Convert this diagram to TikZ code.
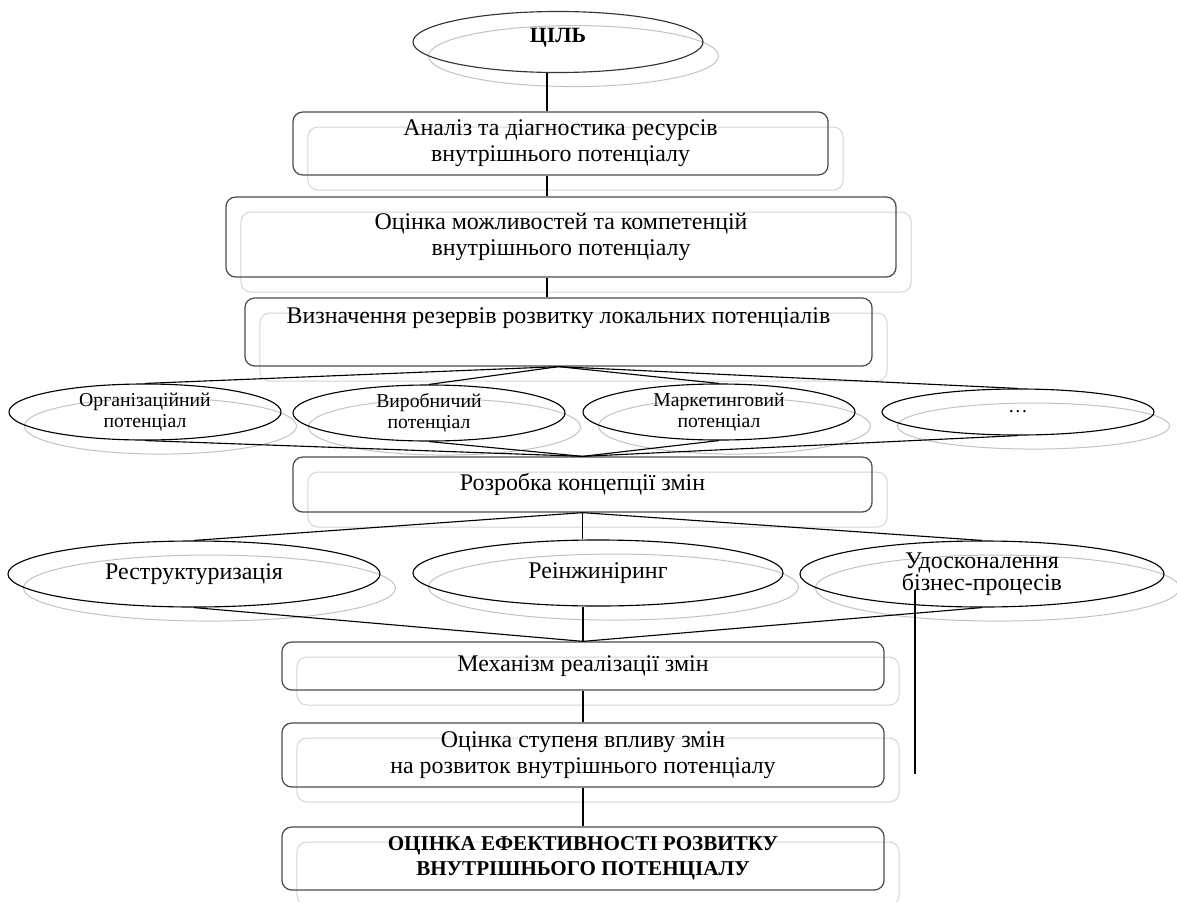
\documentclass[tikz,border=0pt]{standalone}
\usepackage{fontspec}
\setmainfont{Liberation Serif}
\usetikzlibrary{shapes,shadows,positioning,calc}

\begin{document}
\begin{tikzpicture}[x=0.025cm, y=-0.025cm,
    box/.style={draw=black!70, line width=0.9pt, rounded corners=7pt, align=center, inner sep=0pt,
      copy shadow={shadow xshift=10.7pt, shadow yshift=-10.7pt, draw=black!17, line width=0.7pt, fill=none},
      font=\fontsize{17}{18.5}\selectfont},
    oval/.style={ellipse, draw, line width=0.8pt, inner sep=0pt, align=center,
      copy shadow={shadow xshift=11pt, shadow yshift=-10pt, draw=black!24, line width=0.7pt, fill=none},
      font=\fontsize{14}{14.5}\selectfont},
    bigoval/.style={oval, font=\fontsize{17}{16}\selectfont},
    goal/.style={oval, draw=black!80, font=\fontsize{15.5}{16}\bfseries},
    link/.style={line width=0.8pt}]
    \useasboundingbox (0,0) rectangle (1177,901);
    % top of the chain
    \node[goal, minimum width=7.25cm, minimum height=1.525cm] (cil) at (558,42) {\raisebox{9pt}{ЦІЛЬ}};
    \coordinate (spine) at (547,0);
    \node[box, minimum width=13.375cm, minimum height=1.575cm] (analiz) at (560.5,143.5) {Аналіз та діагностика ресурсів\\внутрішнього потенціалу};
    \node[box, minimum width=16.75cm, minimum height=2cm] (ocinka) at (561,237) {Оцінка можливостей та компетенцій\\внутрішнього потенціалу};
    \node[box, minimum width=15.675cm, minimum height=1.7cm] (rezerv) at (558.5,332) {Визначення резервів розвитку локальних потенціалів\\ \strut};
    % local potentials
    \node[oval, minimum width=6.8cm, minimum height=1.4cm] (org) at (145,412) {Організаційний\\потенціал};
    \node[oval, minimum width=6.8cm, minimum height=1.4cm] (vyr) at (429,413) {Виробничий\\потенціал};
    \node[oval, minimum width=6.8cm, minimum height=1.4cm] (mark) at (719,412) {Маркетинговий\\потенціал};
    \node[oval, minimum width=6.8cm, minimum height=1.15cm] (dots) at (1018,412) {…};
    \node[box, minimum width=14.475cm, minimum height=1.375cm] (kontsep) at (582.5,484.5) {Розробка концепції змін};
    % ways of change
    \node[bigoval, minimum width=9.3cm, minimum height=1.65cm] (restr) at (194,574) {Реструктуризація};
    \node[bigoval, minimum width=9.25cm, minimum height=1.65cm] (reing) at (598,573) {Реінжиніринг};
    \node[bigoval, minimum width=9.1cm, minimum height=1.65cm] (udos) at (982,574) {Удосконалення\\бізнес-процесів};
    % bottom of the chain
    \node[box, minimum width=15.05cm, minimum height=1.2cm] (mekh) at (583,666) {Механізм реалізації змін};
    \node[box, minimum width=15.05cm, minimum height=1.6cm] (vplyv) at (583,755) {Оцінка ступеня впливу змін\\на розвиток внутрішнього потенціалу};
    \node[box, minimum width=15.05cm, minimum height=1.575cm, font=\fontsize{15}{18}\bfseries] (efekt) at (583,858.5) {ОЦІНКА ЕФЕКТИВНОСТІ РОЗВИТКУ\\ВНУТРІШНЬОГО ПОТЕНЦІАЛУ};

    \draw[link] (cil.south -| spine) -- (analiz.north -| spine);
    \draw[link] (analiz.south -| spine) -- (ocinka.north -| spine);
    \draw[link] (ocinka.south -| spine) -- (rezerv.north -| spine);
    \foreach \v in {org,vyr,mark,dots} {
      \draw[link] (rezerv.south) -- (\v.north);
      \draw[link] (\v.south) -- (kontsep.north);
    }
    \foreach \v in {restr,udos} {
      \draw[link] (kontsep.south) -- (\v.north);
      \draw[link] (\v.south) -- (mekh.north);
    }
    \draw[link] (kontsep.south) -- (kontsep.south |- reing.north);
    \draw[link] (reing.south -| mekh.north) -- (mekh.north);
    \draw[link] (mekh.south) -- (vplyv.north);
    \draw[link] (vplyv.south) -- (efekt.north);
    \coordinate (stub) at (915,774);
    \draw[link] (stub) -- ++(0,-184);
\end{tikzpicture}
\end{document}
